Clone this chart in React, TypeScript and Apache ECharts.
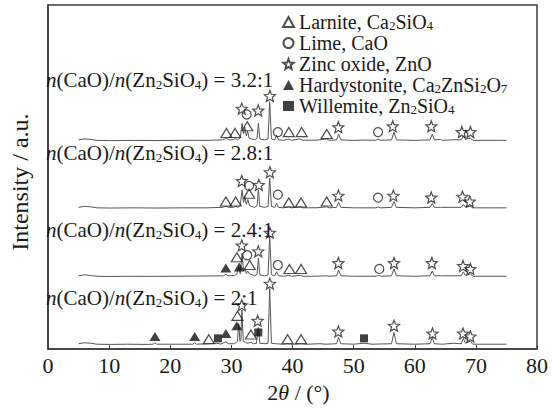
import React, { useEffect, useRef } from "react";
import * as echarts from "echarts";

// XRD patterns: [2θ (°), intensity above the pattern's own baseline (a.u.)]
const trace32: number[][] = [[5,1],[6,2],[7,1.5],[8,0.5],[10,0.3],[14,0.5],[18,0.3],[22,0.6],[26,0.5],[28.5,1],[29.2,2.5],[29.7,1],[30.3,1.2],[30.6,2.5],[31.0,1],[31.45,3],[31.75,18],[32.0,7],[32.2,14],[32.45,5],[32.65,10],[32.9,3],[33.3,2],[33.8,1.2],[34.2,2.5],[34.42,18],[34.65,2],[35.4,1],[36.0,2],[36.27,40],[36.55,2],[37.1,1],[37.4,6],[37.7,1],[38.5,0.6],[39.4,2],[39.8,0.6],[41.2,2],[41.6,0.6],[44,0.8],[45.6,2],[46.0,0.6],[47.2,1],[47.55,7],[47.9,1],[50,0.5],[51.7,0.8],[53.6,0.6],[54.0,2],[54.4,0.6],[56.2,1],[56.6,9],[57.0,1],[60,0.5],[62.5,1],[62.87,7],[63.2,1],[64.2,1.5],[64.6,0.5],[66.4,1.2],[67.6,1],[67.95,5],[68.3,1.5],[69.1,3],[69.5,0.5],[72,0.6],[75,0.5]];
const trace28: number[][] = [[5,1],[6,2],[7,1.5],[8,0.5],[10,0.3],[14,0.5],[18,0.3],[22,0.5],[26,0.5],[28.5,1],[29.1,2],[29.6,1],[30.3,1],[30.7,2],[31.1,1],[31.45,3],[31.75,19],[32.0,6],[32.2,12],[32.45,4],[32.7,9],[32.95,3],[33.3,2],[33.8,1],[34.2,2.5],[34.42,19],[34.65,2],[35.4,1],[36.0,2],[36.27,31],[36.55,2],[37.1,1],[37.4,5],[37.7,1],[38.5,0.5],[39.4,1.5],[39.8,0.5],[41.3,1.5],[41.7,0.5],[44,0.6],[45.6,1.5],[46.0,0.5],[47.2,1],[47.55,6],[47.9,1],[50,0.5],[53.6,0.5],[54.0,1.5],[54.4,0.5],[56.2,1],[56.6,7],[57.0,1],[60,0.5],[62.5,1],[62.87,5],[63.2,1],[64.2,1],[66.4,1],[67.6,1],[67.95,4],[68.3,1.2],[69.1,2],[69.5,0.5],[72,0.5],[75,0.5]];
const trace24: number[][] = [[5,1],[6,2],[7,1.2],[8,0.5],[10,0.3],[14,0.5],[18,0.4],[22,0.6],[26,0.8],[28.7,1],[29.1,2.5],[29.5,1],[30.5,1.2],[30.9,3],[31.2,10],[31.45,3],[31.75,24],[32.0,6],[32.25,8],[32.45,3],[32.65,6],[32.95,3],[33.4,2],[33.8,1],[34.2,2.5],[34.42,19],[34.65,2],[35.4,1],[36.0,2],[36.27,41],[36.55,2],[37.1,1],[37.4,5],[37.7,1],[38.5,0.5],[39.4,1.5],[39.8,0.5],[41.3,1.5],[41.7,0.5],[44,0.6],[45.6,1],[46,0.5],[47.2,1],[47.55,7],[47.9,1],[50,0.5],[53.7,0.5],[54.1,1.5],[54.5,0.5],[56.2,1],[56.6,8],[57.0,1],[60,0.5],[62.5,1],[62.87,6],[63.2,1],[64.2,1],[66.4,1],[67.6,1],[67.95,5],[68.3,1.2],[69.1,3],[69.5,0.5],[72,0.5],[75,0.5]];
const trace20: number[][] = [[5,1.5],[6,2.5],[7,2],[8,1],[10,0.8],[13,1],[16,0.8],[17.2,1],[17.5,2.5],[17.8,1],[20,1],[23.7,1],[24.0,2.5],[24.3,1],[26.3,1.5],[27.8,2],[28.2,1],[29.1,3.5],[29.5,1.5],[30.5,1.5],[31.0,4],[31.2,22],[31.4,4],[31.55,6],[31.72,36],[31.95,4],[32.3,3],[32.6,2],[33.2,3],[33.6,1.5],[34.1,2],[34.4,18],[34.65,2],[35.5,1.5],[36.0,2],[36.27,58],[36.55,2],[37.2,1.5],[38.5,1],[39.2,1.5],[40,1],[41.4,1.5],[42.5,1],[44.5,1.5],[45.5,1],[47.2,1.5],[47.55,8],[47.9,1.5],[50,1],[51.7,2],[53,1],[56.2,1.5],[56.6,13],[57.0,1.5],[60,1],[62.5,1.5],[62.87,8],[63.2,1.5],[64.5,1],[66.4,2],[67.6,1.5],[67.95,7],[68.3,2],[69.1,4],[69.5,1],[72,1],[75,1]];

const traces = [trace32, trace28, trace24, trace20];
const ratioLabels = ["3.2:1", "2.8:1", "2.4:1", "2:1"];
// vertical offset of each stacked pattern (a.u.)
const offsets = [213, 144, 74, 4];

// phase markers: [pattern index, 2θ, height above that pattern's baseline]
const larnite: number[][] = [[0,29.2,8],[0,30.6,8],[0,32.6,15],[0,39.4,9],[0,41.5,9],[0,45.6,7],[1,29.1,7],[1,30.7,7],[1,32.9,15],[1,39.4,6],[1,41.4,6],[1,45.6,7],[2,30.9,20],[2,33.0,12],[2,39.5,8],[2,41.4,8],[3,26.3,6],[3,31.0,30],[3,33.2,11],[3,39.2,6],[3,41.4,6]];
const lime: number[][] = [[0,32.5,27],[0,37.6,9],[0,54.0,9],[1,32.9,23],[1,37.6,14],[1,54.0,11],[2,32.6,22],[2,37.6,12],[2,54.2,8]];
const zincOxide: number[][] = [[0,31.7,33],[0,34.4,31],[0,36.3,46],[0,47.5,14],[0,56.4,15],[0,62.7,15],[0,67.7,9],[0,69.1,9],[1,31.7,28],[1,34.5,24],[1,36.3,37],[1,47.5,13],[1,56.5,13],[1,62.7,11],[1,67.8,12],[1,69.0,7],[2,31.7,32],[2,34.4,26],[2,36.3,45],[2,47.5,14],[2,56.6,14],[2,62.8,14],[2,67.9,11],[2,69.1,8],[3,31.7,41],[3,34.3,25],[3,36.3,63],[3,47.5,14],[3,56.6,20],[3,62.9,12],[3,67.9,12],[3,69.1,9]];
const hardystonite: number[][] = [[2,29.1,9],[2,31.3,10],[3,17.5,9],[3,24.0,9],[3,29.1,12],[3,30.9,20]];
const willemite: number[][] = [[3,27.8,7],[3,34.4,13],[3,51.7,7]];

const phaseNames = ["Larnite", "Lime", "Zinc oxide", "Hardystonite", "Willemite"];
const phaseFormulas = ["Ca{s|2}SiO{s|4}", "CaO", "ZnO", "Ca{s|2}ZnSi{s|2}O{s|7}", "Zn{s|2}SiO{s|4}"];
const xTicks = { min: 0, max: 80, interval: 10 };

const FONT = "'Liberation Serif', 'Times New Roman', serif";
const INK = "#1a1a1a";
const STAR = "path://M12,1 L14.9,8.6 L23,9.3 L16.8,14.4 L18.8,22.5 L12,18.1 L5.2,22.5 L7.2,14.4 L1,9.3 L9.1,8.6 Z";

export default function App() {
  const ref = useRef<HTMLDivElement>(null);
  useEffect(() => {
    if (!ref.current) return;
    const chart = echarts.init(ref.current, undefined, { renderer: "svg" });
    const place = (pts: number[][]) => pts.map(([t, x, h]) => [x, offsets[t] + h]);
    const hollow = { color: "rgba(255,255,255,0)", borderColor: "#222", borderWidth: 1.2 };
    const solid = { color: "#111", borderColor: "#111", borderWidth: 0 };
    const lineSeries = traces.map((tr, k) => ({
      type: "line",
      name: "n = " + ratioLabels[k],
      data: tr.map(([x, h]) => [x, offsets[k] + h]),
      showSymbol: false,
      symbol: "none",
      lineStyle: { color: "#555", width: 1 },
      silent: true,
      z: 1,
    }));
    const markerSeries = [
      { name: phaseNames[0], data: place(larnite), symbol: "triangle", symbolSize: [11, 9], itemStyle: hollow },
      { name: phaseNames[1], data: place(lime), symbol: "circle", symbolSize: 9, itemStyle: hollow },
      { name: phaseNames[2], data: place(zincOxide), symbol: STAR, symbolSize: 11, itemStyle: hollow },
      { name: phaseNames[3], data: place(hardystonite), symbol: "triangle", symbolSize: [11, 9], itemStyle: solid },
      { name: phaseNames[4], data: place(willemite), symbol: "rect", symbolSize: 8, itemStyle: solid },
    ].map((s) => ({ type: "scatter", z: 3, ...s }));

    const labelTops = [69, 142, 219, 287];
    chart.setOption({
      animation: false,
      backgroundColor: "#fff",
      grid: { left: 44, right: 16, top: 5, bottom: 51, show: true, borderColor: "#3c3c3c", borderWidth: 1.5, backgroundColor: "transparent" },
      legend: {
        data: phaseNames,
        orient: "vertical",
        left: 277,
        top: 7,
        itemWidth: 11,
        itemHeight: 10,
        itemGap: 1,
        selectedMode: false,
        formatter: (name: string) => name + ", " + phaseFormulas[phaseNames.indexOf(name)],
        textStyle: {
          fontFamily: FONT, fontSize: 20, lineHeight: 20, color: INK,
          rich: { s: { fontSize: 13, lineHeight: 13, verticalAlign: "bottom", fontFamily: FONT, color: INK } },
        },
      },
      xAxis: {
        type: "value",
        min: xTicks.min,
        max: xTicks.max,
        interval: xTicks.interval,
        name: "{n|2}{t|θ}{n| / (°)}",
        nameLocation: "middle",
        nameGap: 29,
        nameTextStyle: {
          fontFamily: FONT,
          fontSize: 22,
          color: INK,
          padding: [0, 0, 0, 12],
          rich: {
            n: { fontFamily: FONT, fontSize: 22, color: INK },
            t: { fontFamily: FONT, fontSize: 22, fontStyle: "italic", color: INK },
          },
        },
        axisLine: { lineStyle: { color: "#3c3c3c", width: 1.5 } },
        axisTick: { inside: true, length: 4, lineStyle: { color: "#3c3c3c" } },
        axisLabel: { fontFamily: FONT, fontSize: 22, color: INK, margin: 5 },
        splitLine: { show: false },
      },
      yAxis: {
        type: "value",
        min: 0,
        max: 352,
        name: "Intensity / a.u.",
        nameLocation: "middle",
        nameGap: 16,
        nameTextStyle: { fontFamily: FONT, fontSize: 24, color: INK, padding: [0, 10, 0, 0] },
        axisLine: { show: true, lineStyle: { color: "#3c3c3c", width: 1.5 } },
        axisTick: { show: false },
        axisLabel: { show: false },
        splitLine: { show: false },
      },
      graphic: ratioLabels.map((r, k) => ({
        type: "text",
        left: 46,
        top: labelTops[k],
        z: 10,
        style: {
          text: "{i|n}(CaO)/{i|n}(Zn{s|2}SiO{s|4}) = " + r,
          fontFamily: FONT,
          fontSize: 21,
          lineHeight: 22,
          fill: INK,
          rich: {
            s: { fontSize: 13, lineHeight: 11, verticalAlign: "bottom", fontFamily: FONT, fill: INK },
            i: { fontStyle: "italic", fontSize: 21, lineHeight: 22, fontFamily: FONT, fill: INK },
          },
        },
      })),
      series: [...lineSeries, ...markerSeries],
    });
    return () => chart.dispose();
  }, []);
  return <div ref={ref} style={{ width: 553, height: 408, position: "absolute", left: 0, top: 0 }} />;
}
